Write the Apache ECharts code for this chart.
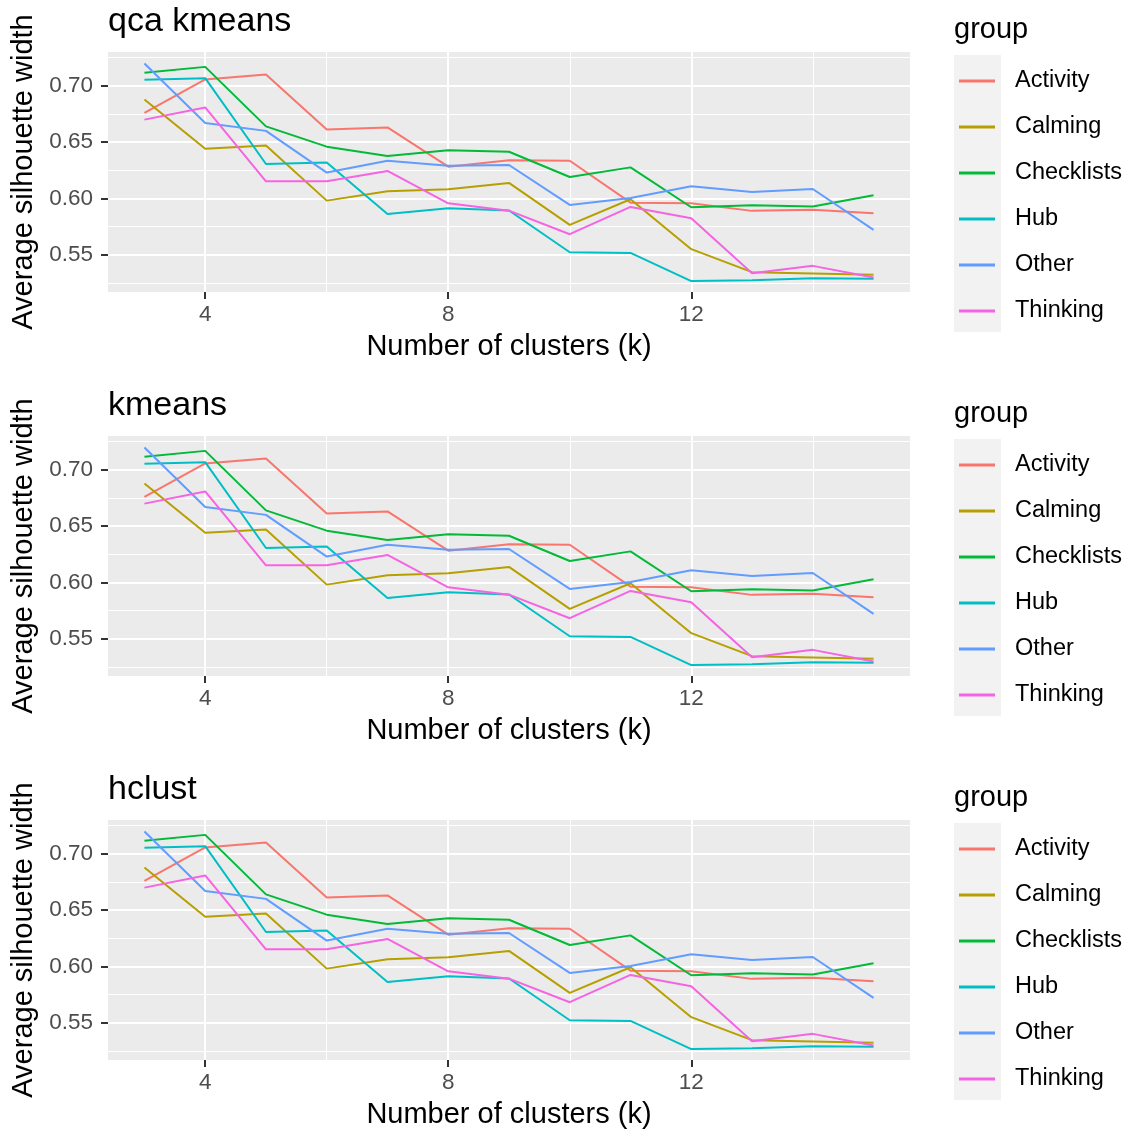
<!DOCTYPE html>
<html><head><meta charset="utf-8">
<script src="https://cdn.jsdelivr.net/npm/echarts@6/dist/echarts.min.js"></script>
<style>html,body{margin:0;padding:0;background:#fff}#c{width:1131px;height:1133px}</style>
</head><body><div id="c"></div>
<script>
// ---- data (all three panels show the same values) ----
const kValues = [3,4,5,6,7,8,9,10,11,12,13,14,15];
const groups = ['Activity','Calming','Checklists','Hub','Other','Thinking'];
const activity   = [0.676,0.7056,0.710,0.6613,0.6631,0.6282,0.634,0.6335,0.5963,0.5957,0.589,0.5901,0.5869];
const calming    = [0.6879,0.6442,0.6471,0.5981,0.6064,0.6082,0.6138,0.5766,0.5993,0.555,0.5346,0.5334,0.5322];
const checklists = [0.7115,0.7168,0.664,0.646,0.6377,0.6427,0.6415,0.6191,0.6276,0.5922,0.594,0.5928,0.6028];
const hub        = [0.7053,0.7068,0.6306,0.632,0.5863,0.5913,0.5893,0.5523,0.5517,0.5267,0.5275,0.5293,0.5287];
const other      = [0.7198,0.667,0.660,0.623,0.6335,0.629,0.6297,0.5943,0.6005,0.6108,0.6058,0.6084,0.5721];
const thinking   = [0.670,0.6808,0.6152,0.6152,0.6244,0.5957,0.5892,0.5683,0.5925,0.5825,0.5337,0.5402,0.5299];
const panelTitles = ['qca kmeans','kmeans','hclust'];
const xTickLabels = [4,8,12];
const xMinorTicks = [6,10,14];
const yTickLabels = [0.55,0.60,0.65,0.70];
const yMinorTicks = [0.525,0.575,0.625,0.675,0.725];
const xTitle = 'Number of clusters (k)';
const yTitle = 'Average silhouette width';
const legendTitle = 'group';

const seriesValues = [activity, calming, checklists, hub, other, thinking];
const colors = ['#F8766D','#B79F00','#00BA38','#00BFC4','#619CFF','#F564E3'];
const FONT = "'Liberation Sans', Arial, Helvetica, sans-serif";
const OFF = 384;
const X_MIN = 2.4, X_MAX = 15.6, Y_MIN = 0.517, Y_MAX = 0.730;

const grid = [], xAxis = [], yAxis = [], series = [], legend = [], title = [], graphic = [];
for (let p = 0; p < 3; p++) {
  grid.push({left:108, top:52 + OFF*p, width:802, height:240, show:true, backgroundColor:'#EBEBEB', borderWidth:0});
  xAxis.push({
    gridIndex:p, type:'value', min:X_MIN, max:X_MAX,
    axisLine:{show:false},
    axisTick:{show:true, customValues:xTickLabels, length:7, lineStyle:{color:'#333333', width:2}},
    axisLabel:{customValues:xTickLabels, color:'#4D4D4D', fontSize:22.5, margin:11, fontFamily:FONT, formatter:v=>String(v)},
    splitLine:{show:true, lineStyle:{color:'#FFFFFF', width:2}},
    name:xTitle, nameLocation:'middle', nameGap:40,
    nameTextStyle:{fontSize:29, color:'#000', fontFamily:FONT}
  });
  xAxis.push({
    gridIndex:p, type:'value', min:X_MIN, max:X_MAX, position:'bottom',
    axisLine:{show:false},
    axisTick:{show:false, customValues:xMinorTicks},
    axisLabel:{show:false, customValues:xMinorTicks},
    splitLine:{show:true, lineStyle:{color:'#FFFFFF', width:1}}
  });
  yAxis.push({
    gridIndex:p, type:'value', min:Y_MIN, max:Y_MAX,
    axisLine:{show:false},
    axisTick:{show:true, customValues:yTickLabels, length:7, lineStyle:{color:'#333333', width:2}},
    axisLabel:{customValues:yTickLabels, color:'#4D4D4D', fontSize:22.5, margin:15, fontFamily:FONT, formatter:v=>v.toFixed(2)},
    splitLine:{show:true, lineStyle:{color:'#FFFFFF', width:2}},
    name:yTitle, nameLocation:'middle', nameRotate:90, nameGap:67,
    nameTextStyle:{fontSize:29, color:'#000', fontFamily:FONT}
  });
  yAxis.push({
    gridIndex:p, type:'value', min:Y_MIN, max:Y_MAX, position:'left',
    axisLine:{show:false},
    axisTick:{show:false, customValues:yMinorTicks},
    axisLabel:{show:false, customValues:yMinorTicks},
    splitLine:{show:true, lineStyle:{color:'#FFFFFF', width:1}}
  });
  groups.forEach((g, i) => {
    series.push({
      type:'line', name:g, xAxisIndex:2*p, yAxisIndex:2*p,
      data:kValues.map((k, j) => [k, seriesValues[i][j]]),
      symbol:'none', z:3,
      itemStyle:{color:colors[i]},
      lineStyle:{color:colors[i], width:2}
    });
  });
  legend.push({
    orient:'vertical', left:959, top:69 + OFF*p, padding:0,
    itemWidth:36, itemHeight:3, itemGap:22, icon:'rect',
    selectedMode:false, data:groups,
    textStyle:{fontSize:23.5, color:'#000', lineHeight:23, padding:[0,0,0,15], fontFamily:FONT}
  });
  title.push({text:panelTitles[p], left:108, top:5 + OFF*p, padding:0,
    textStyle:{fontSize:34, fontWeight:'normal', color:'#000', fontFamily:FONT}});
  title.push({text:legendTitle, left:954, top:15 + OFF*p, padding:0,
    textStyle:{fontSize:29, fontWeight:'normal', color:'#000', fontFamily:FONT}});
  graphic.push({type:'rect', left:954, top:55 + OFF*p, z:0,
    shape:{width:47, height:277}, style:{fill:'#F2F2F2'}});
}

const chart = echarts.init(document.getElementById('c'), null, {renderer:'canvas'});
chart.setOption({
  animation:false, backgroundColor:'#FFFFFF',
  textStyle:{fontFamily:FONT},
  color:colors,
  grid, xAxis, yAxis, series, legend, title, graphic
});
</script></body></html>
